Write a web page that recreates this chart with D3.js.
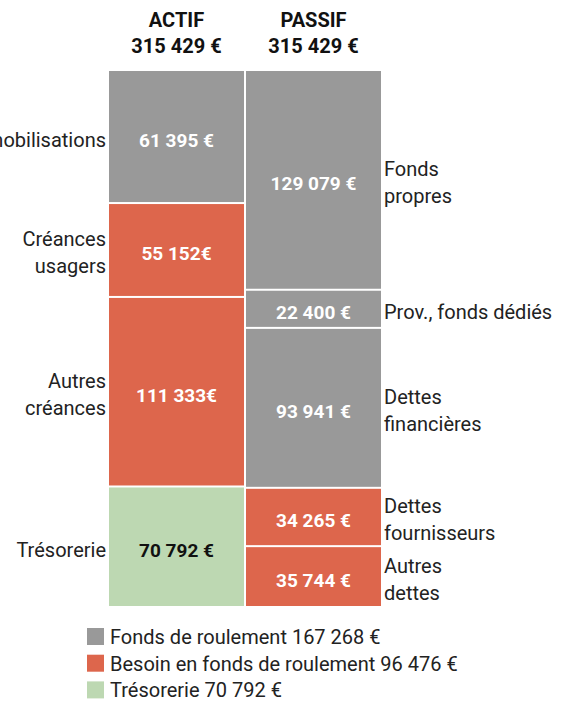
<!DOCTYPE html>
<html>
<head>
<meta charset="utf-8">
<script src="https://cdn.jsdelivr.net/npm/d3@7"></script>
<style>
  body { margin: 0; background: #fff; }
  svg text { font-family: Roboto, 'Noto Sans', sans-serif; }
</style>
</head>
<body>
<div id="chart"></div>
<script>
'use strict'

// Data
const columns = ['ACTIF', 'PASSIF']
const columnTotals = ['315 429 €', '315 429 €']

const actifNames = [['Immobilisations'], ['Créances', 'usagers'], ['Autres', 'créances'], ['Trésorerie']]
const actifValues = [78152, 55152, 111333, 70792]
const actifLabels = ['61 395 €', '55 152€', '111 333€', '70 792 €']
const actifKinds = ['fr', 'bfr', 'bfr', 'treso']

const passifNames = [['Fonds', 'propres'], ['Prov., fonds dédiés'], ['Dettes', 'financières'], ['Dettes', 'fournisseurs'], ['Autres', 'dettes']]
const passifValues = [129079, 22400, 93941, 34265, 35744]
const passifLabels = ['129 079 €', '22 400 €', '93 941 €', '34 265 €', '35 744 €']
const passifKinds = ['fr', 'fr', 'fr', 'bfr', 'bfr']

const legendKinds = ['fr', 'bfr', 'treso']
const legendLabels = ['Fonds de roulement 167 268 €', 'Besoin en fonds de roulement 96 476 €', 'Trésorerie 70 792 €']

const total = 315429

function draw() {
  const dimensions = {
    width: 570,
    height: 702,
    top: 70,
    bottom: 607,
  }

  const color = d3.scaleOrdinal()
    .domain(['fr', 'bfr', 'treso'])
    .range(['#999999', '#dd664c', '#bdd8b2'])

  const svg = d3.select('#chart')
    .append('svg')
    .attr('width', dimensions.width)
    .attr('height', dimensions.height)

  const xScale = d3.scaleBand()
    .domain(columns)
    .range([108, 382])
    .paddingInner(0)

  const yScale = d3.scaleLinear()
    .domain([0, total])
    .range([dimensions.top, dimensions.bottom])

  // Headers
  const header = svg.append('g')
  columns.forEach((c, i) => {
    const cx = xScale(c) + xScale.bandwidth() / 2
    header.append('text')
      .attr('x', cx).attr('y', 27)
      .attr('text-anchor', 'middle')
      .attr('font-size', 20).attr('font-weight', 700).attr('fill', '#111')
      .text(c)
    header.append('text')
      .attr('x', cx).attr('y', 53)
      .attr('text-anchor', 'middle')
      .attr('font-size', 20).attr('font-weight', 700).attr('fill', '#111')
      .text(columnTotals[i])
  })

  const stackRows = (values) => {
    let acc = 0
    return values.map((v) => {
      const row = { y0: acc, y1: acc + v }
      acc += v
      return row
    })
  }

  const drawColumn = (col, names, values, labels, kinds, side) => {
    const rows = stackRows(values).map((r, i) => ({
      ...r, name: names[i], label: labels[i], kind: kinds[i],
    }))
    const x0 = xScale(col)
    const w = xScale.bandwidth()
    const g = svg.append('g')

    g.selectAll('rect')
      .data(rows)
      .join('rect')
      .attr('x', x0 + 1)
      .attr('y', (d) => yScale(d.y0) + 1)
      .attr('width', w - 2)
      .attr('height', (d) => yScale(d.y1) - yScale(d.y0) - 2)
      .attr('fill', (d) => color(d.kind))

    g.selectAll('text.value')
      .data(rows)
      .join('text')
      .attr('class', 'value')
      .attr('x', x0 + w / 2)
      .attr('y', (d) => (yScale(d.y0) + yScale(d.y1)) / 2 + 10)
      .attr('text-anchor', 'middle')
      .attr('font-size', 19)
      .attr('font-weight', 700)
      .attr('fill', (d) => (d.kind === 'treso' ? '#111' : '#fff'))
      .text((d) => d.label)

    const nameX = side === 'left' ? x0 - 2 : x0 + w + 2
    const nameText = g.selectAll('text.name')
      .data(rows)
      .join('text')
      .attr('class', 'name')
      .attr('text-anchor', side === 'left' ? 'end' : 'start')
      .attr('font-size', 20)
      .attr('fill', '#222')
      .attr('transform', (d) => {
        const cy = (yScale(d.y0) + yScale(d.y1)) / 2
        return `translate(${nameX}, ${cy - (d.name.length - 1) * 13.5 + 10})`
      })

    nameText.selectAll('tspan')
      .data((d) => d.name)
      .join('tspan')
      .attr('x', 0)
      .attr('y', (d, i) => i * 27)
      .text((d) => d)
  }

  drawColumn('ACTIF', actifNames, actifValues, actifLabels, actifKinds, 'left')
  drawColumn('PASSIF', passifNames, passifValues, passifLabels, passifKinds, 'right')

  // Legend
  const legend = svg.append('g').attr('transform', 'translate(87, 628)')
  const items = legend.selectAll('g')
    .data(legendKinds)
    .join('g')
    .attr('transform', (d, i) => `translate(0, ${i * 26.7})`)

  items.append('rect')
    .attr('width', 17).attr('height', 17)
    .attr('fill', (d) => color(d))

  items.append('text')
    .attr('x', 23).attr('y', 16)
    .attr('font-size', 20)
    .attr('fill', '#222')
    .text((d, i) => legendLabels[i])
}

draw()
</script>
</body>
</html>
